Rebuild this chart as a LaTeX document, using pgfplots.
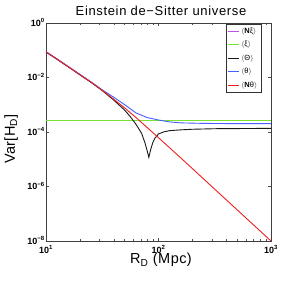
\documentclass[border=0pt]{standalone}
\usepackage{fontspec}
\setmainfont{Liberation Sans}
\usepackage{pgfplots}
\pgfplotsset{compat=1.18}
\definecolor{cpurple}{RGB}{190,80,230}
\definecolor{cgreen}{RGB}{120,225,50}
\definecolor{cblack}{RGB}{25,25,25}
\definecolor{cblue}{RGB}{70,95,255}
\definecolor{cred}{RGB}{240,30,30}
\begin{document}
\begin{tikzpicture}
\begin{axis}[
  scale only axis, width=225pt, height=218pt,
  xmode=log, ymode=log,
  xmin=10, xmax=1000, ymin=1e-8, ymax=1,
  xtick={10,100,1000},
  xticklabels={10\textsuperscript{1},10\textsuperscript{2},10\textsuperscript{3}},
  ytick={1,1e-2,1e-4,1e-6,1e-8},
  yticklabels={10\textsuperscript{0},10\textsuperscript{−2},10\textsuperscript{−4},10\textsuperscript{−6},10\textsuperscript{−8}},
  yminorticks=false,
  tick align=inside,
  major tick length=3pt, minor tick length=1.8pt,
  axis line style={black!75, line width=0.6pt},
  every tick/.style={black!70, line width=0.4pt},
  tick label style={font=\fontsize{9}{10}\selectfont\bfseries},
  yticklabel style={anchor=base east, yshift=-3.5pt, inner sep=1pt},
  xticklabel style={anchor=north, inner sep=1pt, yshift=-3pt},
  legend style={at={(1,1)}, anchor=north east, xshift=-10pt, yshift=-1pt,
    font=\fontsize{7.5}{8}\selectfont, draw=black!80, line width=0.5pt,
    inner sep=1.5pt, row sep=2.6pt},
  legend cell align=left,
  legend image code/.code={\draw[#1, line width=0.9pt] (0pt,0pt) -- (11pt,0pt);},
  every axis plot/.append style={line width=0.9pt},
  clip mode=individual,
]
\addplot[cpurple, no marks] coordinates {(10,2.7e-4) (1000,2.7e-4)};
\addlegendentry{$\langle$\textbf{N}ξ$\rangle$}
\addplot[cgreen, no marks] coordinates {(10,2.7e-4) (1000,2.7e-4)};
\addlegendentry{$\langle$ξ$\rangle$}
\addplot[cblack, no marks] coordinates {
(10,8.54e-2) (12.59,4.59e-2) (15.85,2.40e-2) (19.95,1.26e-2) (25.12,6.62e-3) (31.62,3.30e-3)
(39.81,1.51e-3) (50.12,6.31e-4) (56.23,3.63e-4) (63.10,1.91e-4) (70.79,8.91e-5)
(75.86,3.98e-5) (79.43,2.0e-5) (82.04,1.17e-5) (85.11,2.24e-5) (89.13,4.17e-5)
(93.33,6.03e-5) (100,8.51e-5) (112.2,1.02e-4) (125.9,1.12e-4) (158.5,1.20e-4)
(199.5,1.26e-4) (316.2,1.32e-4) (1000,1.36e-4)};
\addlegendentry{$\langle$Θ$\rangle$}
\addplot[cblue, no marks] coordinates {
(10,8.88e-2) (12.59,4.77e-2) (15.85,2.50e-2) (19.95,1.32e-2) (25.12,6.93e-3) (31.62,3.52e-3)
(39.81,1.91e-3) (50.12,1.0e-3) (63.10,5.01e-4) (79.43,3.39e-4) (100,2.75e-4)
(125.9,2.34e-4) (158.5,2.16e-4) (251.2,2.07e-4) (398.1,2.04e-4) (1000,2.04e-4)};
\addlegendentry{$\langle$θ$\rangle$}
\addplot[cred, no marks] coordinates {
(10,8.71e-2) (12.59,4.68e-2) (15.85,2.45e-2) (19.95,1.29e-2) (25.12,6.76e-3) (31.62,3.39e-3)
(39.81,1.62e-3) (50.12,7.59e-4) (63.10,3.39e-4) (79.43,1.45e-4) (100,6.17e-5)
(158.5,1.10e-5) (251.2,1.91e-6) (398.1,3.31e-7) (631.0,5.75e-8) (1000,1e-8)};
\addlegendentry{$\langle$\textbf{N}θ$\rangle$}
\coordinate (sw) at (rel axis cs:0,0);
\coordinate (ne) at (rel axis cs:1,1);
\end{axis}
\node[anchor=base, font=\fontsize{13}{15}\selectfont\addfontfeatures{LetterSpace=5}] at ([xshift=115pt, yshift=225.5pt]sw) {Einstein de−Sitter universe};
\node[anchor=base, font=\fontsize{14.5}{16}\selectfont\addfontfeatures{LetterSpace=3}] at ([xshift=115pt, yshift=-23pt]sw) {R\textsubscript{D} (Mpc)};
\node[anchor=base, rotate=90, font=\fontsize{14.5}{16}\selectfont\addfontfeatures{LetterSpace=3}] at ([xshift=-31pt, yshift=102pt]sw) {Var[H\textsubscript{D}]};
\path ([xshift=-46pt,yshift=-42pt]sw) rectangle ([xshift=33pt,yshift=23pt]ne);
\end{tikzpicture}
\end{document}
